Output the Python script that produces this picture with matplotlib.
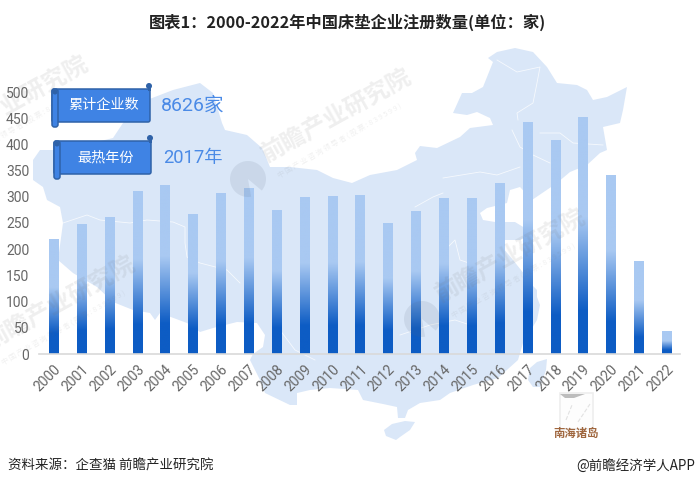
import matplotlib
matplotlib.use('Agg')
import matplotlib.pyplot as plt
import numpy as np
from matplotlib.colors import LinearSegmentedColormap
from matplotlib.patches import FancyBboxPatch, Polygon, Circle, Wedge, Rectangle

plt.rcParams['font.family'] = ['Noto Sans CJK SC', 'DejaVu Sans']

years = ['2000', '2001', '2002', '2003', '2004', '2005', '2006', '2007', '2008', '2009', '2010', '2011',
         '2012', '2013', '2014', '2015', '2016', '2017', '2018', '2019', '2020', '2021', '2022']
counts = [219, 248, 260, 311, 322, 267, 307, 315, 273, 298, 301, 303,
          250, 271, 296, 296, 326, 441, 408, 452, 340, 177, 42]
yticks = [0, 50, 100, 150, 200, 250, 300, 350, 400, 450, 500]

# map outline, traced in image pixels (background decoration only)
china = [(33, 160), (40, 150), (53, 150), (80, 146), (113, 138), (123, 123), (147, 100), (173, 90), (200, 83),
         (213, 93), (222, 123), (225, 130), (247, 135), (262, 148), (270, 167), (290, 167), (317, 170),
         (333, 178), (352, 183), (370, 175), (397, 170), (417, 160), (415, 153), (420, 146), (437, 148),
         (460, 137), (470, 128), (493, 125), (490, 118), (477, 112), (467, 115), (453, 113), (462, 93),
         (472, 93), (483, 87), (493, 62), (488, 58), (497, 52), (515, 48), (533, 52), (547, 67), (557, 83),
         (577, 85), (587, 90), (593, 100), (607, 97), (627, 87), (623, 110), (620, 123), (603, 127),
         (607, 150), (600, 153), (587, 165), (570, 172), (557, 183), (532, 200), (520, 187), (510, 190),
         (507, 203), (487, 208), (480, 213), (483, 220), (495, 222), (515, 222), (533, 233), (520, 240),
         (505, 240), (503, 248), (513, 260), (525, 275), (532, 285), (537, 290), (537, 297), (540, 305),
         (537, 320), (523, 343), (518, 360), (498, 378), (473, 385), (450, 393), (440, 400), (420, 403),
         (408, 410), (405, 418), (398, 418), (397, 407), (383, 404), (363, 400), (358, 390), (330, 388),
         (310, 390), (297, 393), (297, 405), (290, 405), (265, 393), (260, 380), (250, 360), (253, 354),
         (263, 347), (265, 335), (257, 323), (237, 322), (213, 328), (200, 332), (187, 323), (160, 313),
         (155, 320), (150, 313), (133, 310), (113, 302), (97, 287), (73, 273), (58, 260), (63, 223), (60, 207),
         (47, 200), (43, 187), (33, 180)]
hainan = [(384, 430), (392, 424), (405, 421), (415, 422), (410, 430), (400, 437), (396, 440), (386, 436)]
taiwan = [(528, 380), (530, 368), (537, 362), (547, 359), (546, 370), (540, 387), (533, 387)]
borders = [
    [(63, 223), (87, 215), (100, 220), (130, 223), (147, 220), (173, 222), (185, 227), (185, 243), (187, 257),
     (200, 263), (227, 270), (240, 283)],
    [(497, 60), (517, 72), (540, 67), (537, 83), (533, 103), (517, 113), (518, 120)],
    [(512, 130), (520, 147), (533, 155), (550, 163)],
    [(540, 133), (560, 133), (573, 143), (603, 145)],
    [(443, 178), (480, 172), (497, 175), (520, 167)],
    [(415, 207), (433, 197), (443, 193)],
    [(280, 330), (295, 350), (315, 360)],
    [(400, 335), (430, 325), (455, 320), (470, 325)],
    [(445, 250), (455, 240), (460, 260), (475, 265)],
]
inset_island = [(560, 394), (585, 394), (574, 398), (565, 398)]


def label_font():
    return ['Roboto', 'Noto Sans CJK SC']


def banner(bg, x, y, w, h, text):
    # scroll shaped label box
    bg.add_patch(FancyBboxPatch((x, y), w, h, boxstyle='round,pad=0,rounding_size=2', fc='#3f83e4',
                                ec='#2f62a8', lw=1.1, zorder=6))
    bg.add_patch(FancyBboxPatch((x, y), 6, h + 5, boxstyle='round,pad=0,rounding_size=2.5', fc='#3f83e4',
                                ec='#2f62a8', lw=1.1, zorder=7))
    bg.add_patch(Circle((x + 3, y + 3), 2.5, fc='#2f62a8', ec='none', zorder=8))
    bg.add_patch(Rectangle((x + w - 2, y - 3), 2.5, 5, fc='#2f62a8', ec='none', zorder=8))
    bg.add_patch(Circle((x + w - 1, y - 3), 3, fc='#2f62a8', ec='none', zorder=8))
    bg.text(x + w / 2 + 3, y + h / 2, text, color='white', fontsize=10.2, fontweight='medium', ha='center',
            va='center', zorder=9)


def watermark(ov, x0, y0):
    # (x0, y0) is the lower left end of the big text
    ov.text(x0, y0, '前瞻产业研究院', fontsize=17.3, fontweight='bold', color='#707070', alpha=0.11, rotation=29,
            rotation_mode='anchor', ha='left', va='center', clip_on=True)
    ov.text(x0 + 15, y0 + 20, '中 国 产 业 咨 询 领 导 者 ( 股 票 : 8 3 9 5 9 9 )', fontsize=5.2, color='#707070',
            alpha=0.1, rotation=30, rotation_mode='anchor', ha='left', va='center', clip_on=True)
    ov.add_patch(Wedge((x0 - 15, y0 + 23), 18, 80, 400, width=18, fc='#5a6b80', ec='none', alpha=0.12))


fig = plt.figure(figsize=(6.95, 4.87), dpi=100)
W, H = 695.0, 487.0

bg = fig.add_axes([0, 0, 1, 1], zorder=0)
bg.set_xlim(0, W)
bg.set_ylim(H, 0)
bg.axis('off')
bg.add_patch(Polygon(china, closed=True, fc='#dae7f8', ec='none'))
bg.add_patch(Polygon(hainan, closed=True, fc='#dae7f8', ec='none'))
bg.add_patch(Polygon(taiwan, closed=True, fc='#dae7f8', ec='none'))
for line in borders:
    xs, ys = zip(*line)
    bg.plot(xs, ys, color='white', lw=0.6, alpha=0.75)

# south china sea inset
bg.add_patch(Rectangle((560, 393), 33, 36, fc='#fdfdfd', ec='#eeeeee', lw=1.2))
bg.add_patch(Polygon(inset_island, closed=True, fc='#bdbdbd', ec='none'))
bg.plot([566, 572], [420, 405], color='#e2e2e2', lw=0.8, ls='--')
bg.plot([578, 590], [422, 404], color='#e2e2e2', lw=0.8, ls='--')
bg.text(576, 433, '南海诸岛', fontsize=8.2, color='#a0673f', fontweight='bold', ha='center', va='center')

ax = fig.add_axes([39 / W, 1 - 354 / H, (680 - 39) / W, (354 - 92) / H], zorder=1)
ax.patch.set_alpha(0)
x = np.arange(len(years))
bars = ax.bar(x, counts, width=0.33, color='none', edgecolor='none')

# each bar has its own gradient: dark up to 18% of its height, light from 58%
cmap = LinearSegmentedColormap.from_list('bars', [(0, '#0d5cc4'), (0.18 / 0.58, '#0d5cc4'), (1, '#a9c9f2')])
grad = np.clip(np.linspace(1, 0, 300) / 0.58, 0, 1)[:, None]
for bar in bars:
    ax.imshow(grad, extent=[bar.get_x(), bar.get_x() + bar.get_width(), 0, bar.get_height()], aspect='auto',
              cmap=cmap, vmin=0, vmax=1, zorder=2)
ax.set_xlim(-0.52, 22.48)
ax.set_ylim(0, 500)

ax.set_xticks(x)
ax.set_xticklabels(years, rotation=45, ha='right', rotation_mode='anchor', color='#666666', fontsize=10,
                   family=label_font())
ax.set_yticks(yticks)
ax.set_yticklabels(yticks, color='#666666', fontsize=10, family=label_font())
ax.tick_params(axis='both', length=0)
ax.tick_params(axis='x', pad=6)
ax.tick_params(axis='y', pad=7)
for s in ['top', 'left', 'right']:
    ax.spines[s].set_visible(False)
ax.spines['bottom'].set_color('#d9d9d9')
ax.spines['bottom'].set_linewidth(1.2)

ov = fig.add_axes([0, 0, 1, 1], zorder=2)
ov.set_xlim(0, W)
ov.set_ylim(H, 0)
ov.axis('off')
watermark(ov, 263, 156)
watermark(ov, 437, 296)
watermark(ov, -13, 343)
watermark(ov, -60, 143)

banner(ov, 52, 89, 98, 33, '累计企业数')
banner(ov, 54, 141, 97, 33, '最热年份')
ov.text(161, 106, '8626家', color='#4a8ae6', fontsize=14, ha='left', va='center', family=label_font())
ov.text(163, 158, '2017年', color='#4a8ae6', fontsize=13.2, ha='left', va='center', family=label_font())

fig.text(347 / W, 1 - 22 / H, '图表1：2000-2022年中国床垫企业注册数量(单位：家)', fontsize=11.7, fontweight='bold',
         color='#222222', ha='center', va='center')
fig.text(8 / W, 1 - 466 / H, '资料来源：企查猫 前瞻产业研究院', fontsize=9.7, color='#222222', ha='left', va='center')
fig.text(695 / W, 1 - 466 / H, '@前瞻经济学人APP', fontsize=9.7, color='#222222', ha='right', va='center')

fig.savefig('out.png', dpi=100)
